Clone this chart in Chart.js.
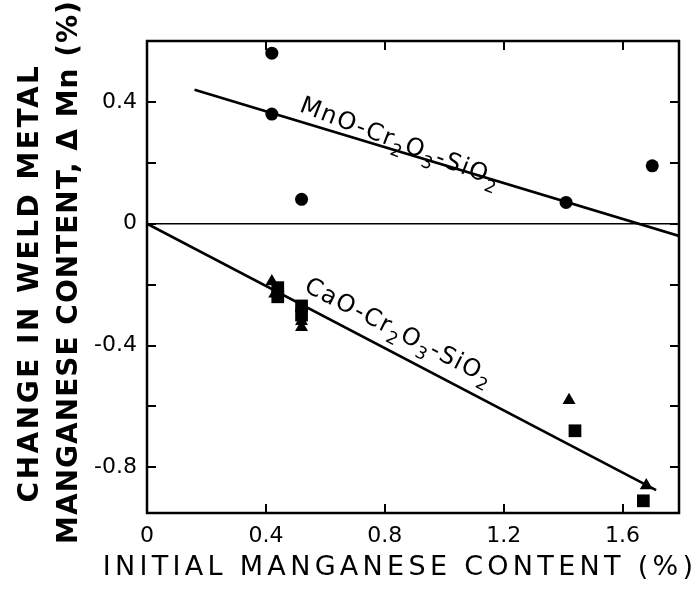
<!DOCTYPE html>
<html>
<head>
<meta charset="utf-8">
<script src="https://cdn.jsdelivr.net/npm/chart.js@4.4.1/dist/chart.umd.min.js"></script>
<style>
  html, body { margin: 0; padding: 0; background: #fff; }
  #wrap { width: 697px; height: 594px; }
</style>
</head>
<body>
<div id="wrap"><canvas id="c" width="697" height="594"></canvas></div>
<script>
// Measured points: change in weld-metal Mn vs. initial Mn content (%)
const mnoX = [0.42, 0.42, 0.52, 1.41, 1.70];
const mnoY = [0.56, 0.36, 0.08, 0.07, 0.19];

const caoTriX = [0.42, 0.43, 0.52, 0.52, 1.42, 1.68];
const caoTriY = [-0.19, -0.23, -0.32, -0.34, -0.58, -0.86];

const caoSqX = [0.44, 0.44, 0.52, 0.52, 1.44, 1.67];
const caoSqY = [-0.21, -0.24, -0.27, -0.30, -0.68, -0.91];

// Fitted trend lines (end points)
const mnoFitX = [0.16, 1.79];
const mnoFitY = [0.44, -0.04];
const caoFitX = [0, 1.713];
const caoFitY = [0, -0.875];

// Zero reference line
const zeroX = [0, 1.79];
const zeroY = [0, 0];

// Axis ranges and labelled ticks
const xMin = 0, xMax = 1.79;
const yMin = -0.95, yMax = 0.6;
const xTickValues = [0, 0.4, 0.8, 1.2, 1.6];
const xTickLabels = ['0', '0.4', '0.8', '1.2', '1.6'];
const yTickValues = [0.4, 0, -0.4, -0.8];
const yTickLabels = ['0.4', '0', '-0.4', '-0.8'];

// Axis titles and curve labels (segments: [text, isSubscript])
const xTitle = 'INITIAL MANGANESE CONTENT (%)';
const yTitle = ['CHANGE IN WELD METAL', 'MANGANESE CONTENT, \u0394 Mn (%)'];
const mnoLabel = [['MnO-Cr', false], ['2', true], ['O', false], ['3', true], ['-SiO', false], ['2', true]];
const caoLabel = [['CaO-Cr', false], ['2', true], ['O', false], ['3', true], ['-SiO', false], ['2', true]];

const pts = (xs, ys) => xs.map((x, i) => ({ x: x, y: ys[i] }));
const near = (v, list) => list.findIndex(t => Math.abs(t - v) < 1e-6);

const FONT = '"DejaVu Sans", "Liberation Sans", sans-serif';

// Frame, inward ticks, axis titles and curve labels
const decor = {
  id: 'decor',
  afterDatasetsDraw(chart) {
    const { ctx, chartArea: a, scales: { x, y } } = chart;
    ctx.save();
    ctx.strokeStyle = '#000';
    ctx.lineCap = 'butt';

    // inward tick marks on all four sides
    ctx.lineWidth = 2;
    const tl = 9;
    x.ticks.forEach(t => {
      const px = Math.round(x.getPixelForValue(t.value));
      if (px <= a.left + 1 || px >= a.right - 1) return;
      ctx.beginPath();
      ctx.moveTo(px, a.bottom); ctx.lineTo(px, a.bottom - tl);
      ctx.moveTo(px, a.top); ctx.lineTo(px, a.top + tl);
      ctx.stroke();
    });
    y.ticks.forEach(t => {
      const py = Math.round(y.getPixelForValue(t.value));
      if (py <= a.top + 1 || py >= a.bottom - 1) return;
      ctx.beginPath();
      ctx.moveTo(a.left, py); ctx.lineTo(a.left + tl, py);
      ctx.moveTo(a.right, py); ctx.lineTo(a.right - tl, py);
      ctx.stroke();
    });

    // plot frame
    ctx.lineWidth = 2.5;
    ctx.strokeRect(a.left, a.top, a.right - a.left, a.bottom - a.top);

    // curve labels
    const drawLabel = (segs, dx, dy, angleDeg, size, spacing) => {
      ctx.save();
      ctx.translate(x.getPixelForValue(dx), y.getPixelForValue(dy));
      ctx.rotate(angleDeg * Math.PI / 180);
      ctx.fillStyle = '#000';
      ctx.textBaseline = 'alphabetic';
      ctx.textAlign = 'left';
      ctx.letterSpacing = spacing + 'px';
      let cx = 0;
      segs.forEach(([txt, sub]) => {
        const fs = sub ? size * 0.72 : size;
        ctx.font = `${fs}px ${FONT}`;
        ctx.fillText(txt, cx, sub ? size * 0.32 : 0);
        cx += ctx.measureText(txt).width;
      });
      ctx.restore();
    };
    drawLabel(mnoLabel, 0.51, 0.37, 21, 24, 1.5);
    drawLabel(caoLabel, 0.525, -0.22, 27, 24, 1.5);

    // axis titles
    ctx.fillStyle = '#000';
    ctx.textAlign = 'center';
    ctx.textBaseline = 'middle';
    ctx.font = `27px ${FONT}`;
    ctx.letterSpacing = '4.3px';
    ctx.fillText(xTitle, 400, 568);

    ctx.font = `bold 28px ${FONT}`;
    ctx.save();
    ctx.translate(31, 283);
    ctx.rotate(-Math.PI / 2);
    ctx.letterSpacing = '2.5px';
    ctx.fillText(yTitle[0], 0, 0);
    ctx.restore();
    ctx.save();
    ctx.translate(70, 272);
    ctx.rotate(-Math.PI / 2);
    ctx.letterSpacing = '1px';
    ctx.fillText(yTitle[1], 0, 0);
    ctx.restore();

    ctx.restore();
  }
};

const lineDs = (xs, ys, w) => ({
  type: 'line', data: pts(xs, ys), borderColor: '#000', borderWidth: w,
  pointRadius: 0, fill: false, tension: 0, order: 2
});

new Chart(document.getElementById('c'), {
  type: 'scatter',
  data: {
    datasets: [
      lineDs(zeroX, zeroY, 1.5),
      lineDs(mnoFitX, mnoFitY, 2.6),
      lineDs(caoFitX, caoFitY, 2.6),
      { data: pts(mnoX, mnoY), pointStyle: 'circle', pointRadius: 6.5,
        backgroundColor: '#000', borderColor: '#000', borderWidth: 0, order: 1 },
      { data: pts(caoTriX, caoTriY), pointStyle: 'triangle', pointRadius: 7.5,
        backgroundColor: '#000', borderColor: '#000', borderWidth: 0, order: 1 },
      { data: pts(caoSqX, caoSqY), pointStyle: 'rect', pointRadius: 9,
        backgroundColor: '#000', borderColor: '#000', borderWidth: 0, order: 1 }
    ]
  },
  options: {
    responsive: false,
    animation: false,
    events: [],
    layout: { padding: { left: 0, right: 18, top: 41, bottom: 0 } },
    plugins: { legend: { display: false }, tooltip: { enabled: false } },
    scales: {
      x: {
        type: 'linear', min: xMin, max: xMax,
        grid: { display: false, drawTicks: false },
        border: { display: false },
        ticks: {
          stepSize: 0.4, includeBounds: false, padding: 10, maxRotation: 0,
          color: '#000', font: { family: FONT, size: 22 },
          callback: v => { const i = near(v, xTickValues); return i >= 0 ? xTickLabels[i] : ''; }
        },
        afterFit: s => { s.height = 81; }
      },
      y: {
        type: 'linear', min: yMin, max: yMax,
        grid: { display: false, drawTicks: false },
        border: { display: false },
        ticks: {
          stepSize: 0.2, includeBounds: false, padding: 10,
          color: '#000', font: { family: FONT, size: 22 },
          callback: v => { const i = near(v, yTickValues); return i >= 0 ? yTickLabels[i] : ''; }
        },
        afterFit: s => { s.width = 147; }
      }
    }
  },
  plugins: [decor]
});
</script>
</body>
</html>
